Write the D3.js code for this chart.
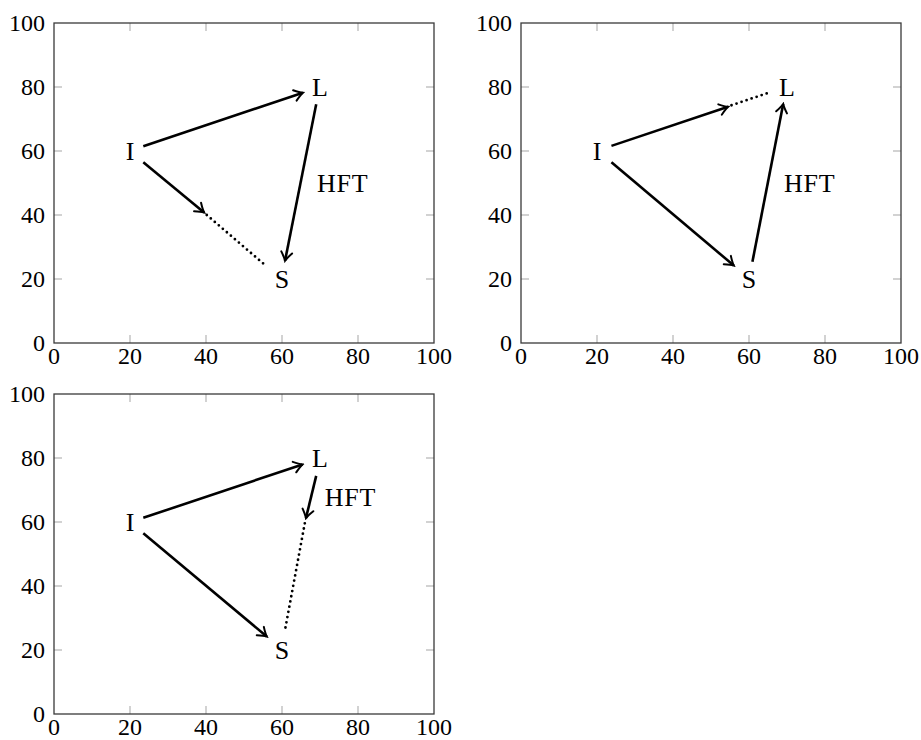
<!DOCTYPE html>
<html>
<head>
<meta charset="utf-8">
<script src="https://cdn.jsdelivr.net/npm/d3@7"></script>
<style>
  body { margin: 0; background: #fff; }
  svg text { font-family: "Liberation Serif", "DejaVu Serif", serif; }
</style>
</head>
<body>
<script>
// axis ticks shared by all three panels
const tickValues = [0, 20, 40, 60, 80, 100];

// node labels (same in every panel)
const nodeNames = ["I", "L", "S"];
const nodeX = [20, 70, 60];
const nodeY = [60, 80, 20];

// "HFT" label position per panel
const hftX = [76, 76, 78];
const hftY = [50, 50, 68];

// solid arrows per panel: [x1, y1, x2, y2]
const arrowsA = [[23.5, 61.5, 65.5, 78.2], [23.5, 56.5, 39.5, 40.8], [69, 74.6, 60.8, 25.7]];
const arrowsB = [[23.8, 61.6, 54.5, 73.8], [23.8, 56.5, 56, 24.2], [60.9, 25.4, 69, 74.7]];
const arrowsC = [[23.5, 61.3, 65.4, 78], [23.5, 56.5, 56, 24.2], [69, 74.4, 66.3, 61.2]];

// dotted continuations per panel
const dotsA = [[40.2, 40, 55.5, 24.4]];
const dotsB = [[55.4, 74.3, 65.9, 78.5]];
const dotsC = [[66, 59.6, 60.8, 26.3]];

const panelArrows = [arrowsA, arrowsB, arrowsC];
const panelDots = [dotsA, dotsB, dotsC];

const W = 921, H = 740;
const pw = 380, ph = 320;
const origins = [[54, 23], [521, 23], [54, 394]];

const svg = d3.select("body").append("svg")
    .attr("width", W)
    .attr("height", H);

// open "->" arrow head
svg.append("defs").append("marker")
    .attr("id", "head")
    .attr("viewBox", "-11 -7 13 14")
    .attr("markerUnits", "userSpaceOnUse")
    .attr("markerWidth", 13)
    .attr("markerHeight", 14)
    .attr("refX", 0)
    .attr("refY", 0)
    .attr("orient", "auto")
    .append("path")
    .attr("d", "M-8.5,-5.5 Q-3,-1.3 0,0 Q-3,1.3 -8.5,5.5")
    .attr("fill", "none")
    .attr("stroke", "#000")
    .attr("stroke-width", 2)
    .attr("stroke-linecap", "round");

origins.forEach((o, p) => {
    const x = d3.scaleLinear().domain([0, 100]).range([0, pw]);
    const y = d3.scaleLinear().domain([0, 100]).range([ph, 0]);

    const g = svg.append("g").attr("transform", `translate(${o[0]},${o[1]})`);

    // inward grey ticks on all four sides
    const inner = tickValues.slice(1, -1);
    const tk = g.append("g").attr("stroke", "#b4b4b4").attr("stroke-width", 1.2);
    inner.forEach(v => {
        tk.append("line").attr("x1", x(v)).attr("x2", x(v)).attr("y1", ph).attr("y2", ph - 8);
        tk.append("line").attr("x1", x(v)).attr("x2", x(v)).attr("y1", 0).attr("y2", 8);
        tk.append("line").attr("x1", 0).attr("x2", 8).attr("y1", y(v)).attr("y2", y(v));
        tk.append("line").attr("x1", pw).attr("x2", pw - 8).attr("y1", y(v)).attr("y2", y(v));
    });

    // frame
    g.append("rect")
        .attr("width", pw).attr("height", ph)
        .attr("fill", "none")
        .attr("stroke", "#3a3a3a")
        .attr("stroke-width", 1.3);

    // tick labels
    g.selectAll(".xl").data(tickValues).join("text")
        .attr("x", d => x(d))
        .attr("y", ph + 21)
        .attr("text-anchor", "middle")
        .attr("font-size", 24)
        .text(d => d);
    g.selectAll(".yl").data(tickValues).join("text")
        .attr("x", -9)
        .attr("y", d => y(d))
        .attr("dy", "0.33em")
        .attr("text-anchor", "end")
        .attr("font-size", 24)
        .text(d => d);

    // arrows
    g.selectAll(".arr").data(panelArrows[p]).join("line")
        .attr("x1", d => x(d[0])).attr("y1", d => y(d[1]))
        .attr("x2", d => x(d[2])).attr("y2", d => y(d[3]))
        .attr("stroke", "#000")
        .attr("stroke-width", 2.6)
        .attr("marker-end", "url(#head)");

    g.selectAll(".dot").data(panelDots[p]).join("line")
        .attr("x1", d => x(d[0])).attr("y1", d => y(d[1]))
        .attr("x2", d => x(d[2])).attr("y2", d => y(d[3]))
        .attr("stroke", "#000")
        .attr("stroke-width", 2.8)
        .attr("stroke-linecap", "round")
        .attr("stroke-dasharray", "0 5.3");

    // node labels
    g.selectAll(".node").data(nodeNames).join("text")
        .attr("x", (d, i) => x(nodeX[i]))
        .attr("y", (d, i) => y(nodeY[i]))
        .attr("dy", "0.35em")
        .attr("text-anchor", "middle")
        .attr("font-size", 26)
        .text(d => d);

    g.append("text")
        .attr("x", x(hftX[p]))
        .attr("y", y(hftY[p]))
        .attr("dy", "0.35em")
        .attr("text-anchor", "middle")
        .attr("font-size", 26)
        .attr("letter-spacing", 0.8)
        .text("HFT");
});
</script>
</body>
</html>
